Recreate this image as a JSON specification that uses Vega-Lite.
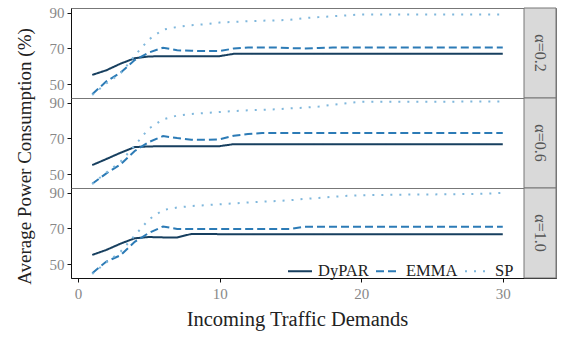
{
"$schema":"https://vega.github.io/schema/vega-lite/v6.json",
"background":"white",
"padding":{"left":14,"top":5,"right":5,"bottom":5},
"bounds":"flush",
"spacing":0,
"config":{"font":"Liberation Serif","view":{"stroke":"#777","strokeWidth":1},
"axis":{"labelFont":"Liberation Serif","titleFont":"Liberation Serif","labelColor":"#888","labelFontSize":15,"titleFontSize":19,"titleFontWeight":"normal","titleColor":"#222","domainColor":"#111","tickColor":"#111","grid":false,"tickSize":4,"labelPadding":3}},
"datasets":{
"strips":[{"alpha":"α=0.2"},{"alpha":"α=0.6"},{"alpha":"α=1.0"}],
"lines":[
{"alpha":"α=0.2","method":"DyPAR","demand":1,"power":55.2},{"alpha":"α=0.2","method":"DyPAR","demand":2,"power":57.8},{"alpha":"α=0.2","method":"DyPAR","demand":3,"power":61.5},{"alpha":"α=0.2","method":"DyPAR","demand":4,"power":64.5},{"alpha":"α=0.2","method":"DyPAR","demand":5,"power":65.5},{"alpha":"α=0.2","method":"DyPAR","demand":6,"power":65.7},{"alpha":"α=0.2","method":"DyPAR","demand":7,"power":65.7},{"alpha":"α=0.2","method":"DyPAR","demand":8,"power":65.7},{"alpha":"α=0.2","method":"DyPAR","demand":9,"power":65.7},{"alpha":"α=0.2","method":"DyPAR","demand":10,"power":65.7},
{"alpha":"α=0.2","method":"DyPAR","demand":11,"power":67},{"alpha":"α=0.2","method":"DyPAR","demand":12,"power":67},{"alpha":"α=0.2","method":"DyPAR","demand":13,"power":67},{"alpha":"α=0.2","method":"DyPAR","demand":14,"power":67},{"alpha":"α=0.2","method":"DyPAR","demand":15,"power":67},{"alpha":"α=0.2","method":"DyPAR","demand":16,"power":67},{"alpha":"α=0.2","method":"DyPAR","demand":17,"power":67},{"alpha":"α=0.2","method":"DyPAR","demand":18,"power":67},{"alpha":"α=0.2","method":"DyPAR","demand":19,"power":67},{"alpha":"α=0.2","method":"DyPAR","demand":20,"power":67},
{"alpha":"α=0.2","method":"DyPAR","demand":21,"power":67},{"alpha":"α=0.2","method":"DyPAR","demand":22,"power":67},{"alpha":"α=0.2","method":"DyPAR","demand":23,"power":67},{"alpha":"α=0.2","method":"DyPAR","demand":24,"power":67},{"alpha":"α=0.2","method":"DyPAR","demand":25,"power":67},{"alpha":"α=0.2","method":"DyPAR","demand":26,"power":67},{"alpha":"α=0.2","method":"DyPAR","demand":27,"power":67},{"alpha":"α=0.2","method":"DyPAR","demand":28,"power":67},{"alpha":"α=0.2","method":"DyPAR","demand":29,"power":67},{"alpha":"α=0.2","method":"DyPAR","demand":30,"power":67},
{"alpha":"α=0.2","method":"EMMA","demand":1,"power":44.4},{"alpha":"α=0.2","method":"EMMA","demand":2,"power":51.6},{"alpha":"α=0.2","method":"EMMA","demand":3,"power":56.5},{"alpha":"α=0.2","method":"EMMA","demand":4,"power":63.5},{"alpha":"α=0.2","method":"EMMA","demand":5,"power":67.7},{"alpha":"α=0.2","method":"EMMA","demand":6,"power":70.4},{"alpha":"α=0.2","method":"EMMA","demand":7,"power":69},{"alpha":"α=0.2","method":"EMMA","demand":8,"power":68.7},{"alpha":"α=0.2","method":"EMMA","demand":9,"power":68.5},{"alpha":"α=0.2","method":"EMMA","demand":10,"power":68.5},
{"alpha":"α=0.2","method":"EMMA","demand":11,"power":70},{"alpha":"α=0.2","method":"EMMA","demand":12,"power":70.5},{"alpha":"α=0.2","method":"EMMA","demand":13,"power":70.5},{"alpha":"α=0.2","method":"EMMA","demand":14,"power":70.5},{"alpha":"α=0.2","method":"EMMA","demand":15,"power":70.2},{"alpha":"α=0.2","method":"EMMA","demand":16,"power":70},{"alpha":"α=0.2","method":"EMMA","demand":17,"power":70.3},{"alpha":"α=0.2","method":"EMMA","demand":18,"power":70.5},{"alpha":"α=0.2","method":"EMMA","demand":19,"power":70.5},{"alpha":"α=0.2","method":"EMMA","demand":20,"power":70.5},
{"alpha":"α=0.2","method":"EMMA","demand":21,"power":70.5},{"alpha":"α=0.2","method":"EMMA","demand":22,"power":70.5},{"alpha":"α=0.2","method":"EMMA","demand":23,"power":70.5},{"alpha":"α=0.2","method":"EMMA","demand":24,"power":70.5},{"alpha":"α=0.2","method":"EMMA","demand":25,"power":70.5},{"alpha":"α=0.2","method":"EMMA","demand":26,"power":70.5},{"alpha":"α=0.2","method":"EMMA","demand":27,"power":70.5},{"alpha":"α=0.2","method":"EMMA","demand":28,"power":70.5},{"alpha":"α=0.2","method":"EMMA","demand":29,"power":70.5},{"alpha":"α=0.2","method":"EMMA","demand":30,"power":70.5},
{"alpha":"α=0.2","method":"SP","demand":1,"power":44},{"alpha":"α=0.2","method":"SP","demand":2,"power":50.5},{"alpha":"α=0.2","method":"SP","demand":3,"power":56},{"alpha":"α=0.2","method":"SP","demand":4,"power":66},{"alpha":"α=0.2","method":"SP","demand":5,"power":75},{"alpha":"α=0.2","method":"SP","demand":6,"power":80.5},{"alpha":"α=0.2","method":"SP","demand":7,"power":82},{"alpha":"α=0.2","method":"SP","demand":8,"power":83},{"alpha":"α=0.2","method":"SP","demand":9,"power":83.5},{"alpha":"α=0.2","method":"SP","demand":10,"power":84.5},
{"alpha":"α=0.2","method":"SP","demand":11,"power":84.8},{"alpha":"α=0.2","method":"SP","demand":12,"power":85.2},{"alpha":"α=0.2","method":"SP","demand":13,"power":85.5},{"alpha":"α=0.2","method":"SP","demand":14,"power":85.7},{"alpha":"α=0.2","method":"SP","demand":15,"power":86},{"alpha":"α=0.2","method":"SP","demand":16,"power":87},{"alpha":"α=0.2","method":"SP","demand":17,"power":87.5},{"alpha":"α=0.2","method":"SP","demand":18,"power":88},{"alpha":"α=0.2","method":"SP","demand":19,"power":88.5},{"alpha":"α=0.2","method":"SP","demand":20,"power":89},
{"alpha":"α=0.2","method":"SP","demand":21,"power":89},{"alpha":"α=0.2","method":"SP","demand":22,"power":89},{"alpha":"α=0.2","method":"SP","demand":23,"power":89},{"alpha":"α=0.2","method":"SP","demand":24,"power":89},{"alpha":"α=0.2","method":"SP","demand":25,"power":89},{"alpha":"α=0.2","method":"SP","demand":26,"power":89},{"alpha":"α=0.2","method":"SP","demand":27,"power":89},{"alpha":"α=0.2","method":"SP","demand":28,"power":89},{"alpha":"α=0.2","method":"SP","demand":29,"power":89},{"alpha":"α=0.2","method":"SP","demand":30,"power":89},
{"alpha":"α=0.6","method":"DyPAR","demand":1,"power":55.1},{"alpha":"α=0.6","method":"DyPAR","demand":2,"power":58.5},{"alpha":"α=0.6","method":"DyPAR","demand":3,"power":62},{"alpha":"α=0.6","method":"DyPAR","demand":4,"power":65.2},{"alpha":"α=0.6","method":"DyPAR","demand":5,"power":65.5},{"alpha":"α=0.6","method":"DyPAR","demand":6,"power":65.7},{"alpha":"α=0.6","method":"DyPAR","demand":7,"power":65.7},{"alpha":"α=0.6","method":"DyPAR","demand":8,"power":65.7},{"alpha":"α=0.6","method":"DyPAR","demand":9,"power":65.7},{"alpha":"α=0.6","method":"DyPAR","demand":10,"power":65.7},
{"alpha":"α=0.6","method":"DyPAR","demand":11,"power":66.8},{"alpha":"α=0.6","method":"DyPAR","demand":12,"power":66.8},{"alpha":"α=0.6","method":"DyPAR","demand":13,"power":66.8},{"alpha":"α=0.6","method":"DyPAR","demand":14,"power":66.8},{"alpha":"α=0.6","method":"DyPAR","demand":15,"power":66.8},{"alpha":"α=0.6","method":"DyPAR","demand":16,"power":66.8},{"alpha":"α=0.6","method":"DyPAR","demand":17,"power":66.8},{"alpha":"α=0.6","method":"DyPAR","demand":18,"power":66.8},{"alpha":"α=0.6","method":"DyPAR","demand":19,"power":66.8},{"alpha":"α=0.6","method":"DyPAR","demand":20,"power":66.8},
{"alpha":"α=0.6","method":"DyPAR","demand":21,"power":66.8},{"alpha":"α=0.6","method":"DyPAR","demand":22,"power":66.8},{"alpha":"α=0.6","method":"DyPAR","demand":23,"power":66.8},{"alpha":"α=0.6","method":"DyPAR","demand":24,"power":66.8},{"alpha":"α=0.6","method":"DyPAR","demand":25,"power":66.8},{"alpha":"α=0.6","method":"DyPAR","demand":26,"power":66.8},{"alpha":"α=0.6","method":"DyPAR","demand":27,"power":66.8},{"alpha":"α=0.6","method":"DyPAR","demand":28,"power":66.8},{"alpha":"α=0.6","method":"DyPAR","demand":29,"power":66.8},{"alpha":"α=0.6","method":"DyPAR","demand":30,"power":66.8},
{"alpha":"α=0.6","method":"EMMA","demand":1,"power":44.7},{"alpha":"α=0.6","method":"EMMA","demand":2,"power":50.5},{"alpha":"α=0.6","method":"EMMA","demand":3,"power":55.5},{"alpha":"α=0.6","method":"EMMA","demand":4,"power":63},{"alpha":"α=0.6","method":"EMMA","demand":5,"power":68},{"alpha":"α=0.6","method":"EMMA","demand":6,"power":71.3},{"alpha":"α=0.6","method":"EMMA","demand":7,"power":70.2},{"alpha":"α=0.6","method":"EMMA","demand":8,"power":69.3},{"alpha":"α=0.6","method":"EMMA","demand":9,"power":69.2},{"alpha":"α=0.6","method":"EMMA","demand":10,"power":69.5},
{"alpha":"α=0.6","method":"EMMA","demand":11,"power":71.5},{"alpha":"α=0.6","method":"EMMA","demand":12,"power":72.5},{"alpha":"α=0.6","method":"EMMA","demand":13,"power":73},{"alpha":"α=0.6","method":"EMMA","demand":14,"power":73},{"alpha":"α=0.6","method":"EMMA","demand":15,"power":73},{"alpha":"α=0.6","method":"EMMA","demand":16,"power":73},{"alpha":"α=0.6","method":"EMMA","demand":17,"power":73},{"alpha":"α=0.6","method":"EMMA","demand":18,"power":73},{"alpha":"α=0.6","method":"EMMA","demand":19,"power":73},{"alpha":"α=0.6","method":"EMMA","demand":20,"power":73},
{"alpha":"α=0.6","method":"EMMA","demand":21,"power":73},{"alpha":"α=0.6","method":"EMMA","demand":22,"power":73},{"alpha":"α=0.6","method":"EMMA","demand":23,"power":73},{"alpha":"α=0.6","method":"EMMA","demand":24,"power":73},{"alpha":"α=0.6","method":"EMMA","demand":25,"power":73},{"alpha":"α=0.6","method":"EMMA","demand":26,"power":73},{"alpha":"α=0.6","method":"EMMA","demand":27,"power":73},{"alpha":"α=0.6","method":"EMMA","demand":28,"power":73},{"alpha":"α=0.6","method":"EMMA","demand":29,"power":73},{"alpha":"α=0.6","method":"EMMA","demand":30,"power":73},
{"alpha":"α=0.6","method":"SP","demand":1,"power":44.5},{"alpha":"α=0.6","method":"SP","demand":2,"power":51},{"alpha":"α=0.6","method":"SP","demand":3,"power":57},{"alpha":"α=0.6","method":"SP","demand":4,"power":66},{"alpha":"α=0.6","method":"SP","demand":5,"power":75.5},{"alpha":"α=0.6","method":"SP","demand":6,"power":80.7},{"alpha":"α=0.6","method":"SP","demand":7,"power":82.8},{"alpha":"α=0.6","method":"SP","demand":8,"power":83.7},{"alpha":"α=0.6","method":"SP","demand":9,"power":84.2},{"alpha":"α=0.6","method":"SP","demand":10,"power":84.8},
{"alpha":"α=0.6","method":"SP","demand":11,"power":85.3},{"alpha":"α=0.6","method":"SP","demand":12,"power":85.7},{"alpha":"α=0.6","method":"SP","demand":13,"power":86},{"alpha":"α=0.6","method":"SP","demand":14,"power":86.3},{"alpha":"α=0.6","method":"SP","demand":15,"power":86.8},{"alpha":"α=0.6","method":"SP","demand":16,"power":87.2},{"alpha":"α=0.6","method":"SP","demand":17,"power":87.8},{"alpha":"α=0.6","method":"SP","demand":18,"power":88.8},{"alpha":"α=0.6","method":"SP","demand":19,"power":89.7},{"alpha":"α=0.6","method":"SP","demand":20,"power":90.5},
{"alpha":"α=0.6","method":"SP","demand":21,"power":90.5},{"alpha":"α=0.6","method":"SP","demand":22,"power":90.5},{"alpha":"α=0.6","method":"SP","demand":23,"power":90.5},{"alpha":"α=0.6","method":"SP","demand":24,"power":90.5},{"alpha":"α=0.6","method":"SP","demand":25,"power":90.5},{"alpha":"α=0.6","method":"SP","demand":26,"power":90.5},{"alpha":"α=0.6","method":"SP","demand":27,"power":90.6},{"alpha":"α=0.6","method":"SP","demand":28,"power":90.6},{"alpha":"α=0.6","method":"SP","demand":29,"power":90.6},{"alpha":"α=0.6","method":"SP","demand":30,"power":90.6},
{"alpha":"α=1.0","method":"DyPAR","demand":1,"power":55.2},{"alpha":"α=1.0","method":"DyPAR","demand":2,"power":58},{"alpha":"α=1.0","method":"DyPAR","demand":3,"power":61.5},{"alpha":"α=1.0","method":"DyPAR","demand":4,"power":64.5},{"alpha":"α=1.0","method":"DyPAR","demand":5,"power":65.2},{"alpha":"α=1.0","method":"DyPAR","demand":6,"power":65},{"alpha":"α=1.0","method":"DyPAR","demand":7,"power":65},{"alpha":"α=1.0","method":"DyPAR","demand":8,"power":66.9},{"alpha":"α=1.0","method":"DyPAR","demand":9,"power":66.9},{"alpha":"α=1.0","method":"DyPAR","demand":10,"power":66.8},
{"alpha":"α=1.0","method":"DyPAR","demand":11,"power":66.8},{"alpha":"α=1.0","method":"DyPAR","demand":12,"power":66.8},{"alpha":"α=1.0","method":"DyPAR","demand":13,"power":66.8},{"alpha":"α=1.0","method":"DyPAR","demand":14,"power":66.8},{"alpha":"α=1.0","method":"DyPAR","demand":15,"power":66.8},{"alpha":"α=1.0","method":"DyPAR","demand":16,"power":66.8},{"alpha":"α=1.0","method":"DyPAR","demand":17,"power":66.8},{"alpha":"α=1.0","method":"DyPAR","demand":18,"power":66.8},{"alpha":"α=1.0","method":"DyPAR","demand":19,"power":66.8},{"alpha":"α=1.0","method":"DyPAR","demand":20,"power":66.8},
{"alpha":"α=1.0","method":"DyPAR","demand":21,"power":66.8},{"alpha":"α=1.0","method":"DyPAR","demand":22,"power":66.8},{"alpha":"α=1.0","method":"DyPAR","demand":23,"power":66.8},{"alpha":"α=1.0","method":"DyPAR","demand":24,"power":66.8},{"alpha":"α=1.0","method":"DyPAR","demand":25,"power":66.8},{"alpha":"α=1.0","method":"DyPAR","demand":26,"power":66.8},{"alpha":"α=1.0","method":"DyPAR","demand":27,"power":66.8},{"alpha":"α=1.0","method":"DyPAR","demand":28,"power":66.8},{"alpha":"α=1.0","method":"DyPAR","demand":29,"power":66.8},{"alpha":"α=1.0","method":"DyPAR","demand":30,"power":66.8},
{"alpha":"α=1.0","method":"EMMA","demand":1,"power":45},{"alpha":"α=1.0","method":"EMMA","demand":2,"power":51.5},{"alpha":"α=1.0","method":"EMMA","demand":3,"power":55},{"alpha":"α=1.0","method":"EMMA","demand":4,"power":62.5},{"alpha":"α=1.0","method":"EMMA","demand":5,"power":67.5},{"alpha":"α=1.0","method":"EMMA","demand":6,"power":71.1},{"alpha":"α=1.0","method":"EMMA","demand":7,"power":69.7},{"alpha":"α=1.0","method":"EMMA","demand":8,"power":69.7},{"alpha":"α=1.0","method":"EMMA","demand":9,"power":69.7},{"alpha":"α=1.0","method":"EMMA","demand":10,"power":69.7},
{"alpha":"α=1.0","method":"EMMA","demand":11,"power":69.7},{"alpha":"α=1.0","method":"EMMA","demand":12,"power":69.7},{"alpha":"α=1.0","method":"EMMA","demand":13,"power":69.7},{"alpha":"α=1.0","method":"EMMA","demand":14,"power":69.7},{"alpha":"α=1.0","method":"EMMA","demand":15,"power":69.7},{"alpha":"α=1.0","method":"EMMA","demand":16,"power":71},{"alpha":"α=1.0","method":"EMMA","demand":17,"power":71},{"alpha":"α=1.0","method":"EMMA","demand":18,"power":71},{"alpha":"α=1.0","method":"EMMA","demand":19,"power":71},{"alpha":"α=1.0","method":"EMMA","demand":20,"power":71},
{"alpha":"α=1.0","method":"EMMA","demand":21,"power":71},{"alpha":"α=1.0","method":"EMMA","demand":22,"power":71},{"alpha":"α=1.0","method":"EMMA","demand":23,"power":71},{"alpha":"α=1.0","method":"EMMA","demand":24,"power":71},{"alpha":"α=1.0","method":"EMMA","demand":25,"power":71},{"alpha":"α=1.0","method":"EMMA","demand":26,"power":71},{"alpha":"α=1.0","method":"EMMA","demand":27,"power":71},{"alpha":"α=1.0","method":"EMMA","demand":28,"power":71},{"alpha":"α=1.0","method":"EMMA","demand":29,"power":71},{"alpha":"α=1.0","method":"EMMA","demand":30,"power":71},
{"alpha":"α=1.0","method":"SP","demand":1,"power":44.5},{"alpha":"α=1.0","method":"SP","demand":2,"power":51},{"alpha":"α=1.0","method":"SP","demand":3,"power":57},{"alpha":"α=1.0","method":"SP","demand":4,"power":66},{"alpha":"α=1.0","method":"SP","demand":5,"power":75},{"alpha":"α=1.0","method":"SP","demand":6,"power":80.3},{"alpha":"α=1.0","method":"SP","demand":7,"power":81.7},{"alpha":"α=1.0","method":"SP","demand":8,"power":82.5},{"alpha":"α=1.0","method":"SP","demand":9,"power":83},{"alpha":"α=1.0","method":"SP","demand":10,"power":83.5},
{"alpha":"α=1.0","method":"SP","demand":11,"power":84},{"alpha":"α=1.0","method":"SP","demand":12,"power":84.5},{"alpha":"α=1.0","method":"SP","demand":13,"power":85},{"alpha":"α=1.0","method":"SP","demand":14,"power":85.3},{"alpha":"α=1.0","method":"SP","demand":15,"power":85.8},{"alpha":"α=1.0","method":"SP","demand":16,"power":86.5},{"alpha":"α=1.0","method":"SP","demand":17,"power":87},{"alpha":"α=1.0","method":"SP","demand":18,"power":87.7},{"alpha":"α=1.0","method":"SP","demand":19,"power":88.2},{"alpha":"α=1.0","method":"SP","demand":20,"power":88.5},
{"alpha":"α=1.0","method":"SP","demand":21,"power":88.7},{"alpha":"α=1.0","method":"SP","demand":22,"power":88.8},{"alpha":"α=1.0","method":"SP","demand":23,"power":88.9},{"alpha":"α=1.0","method":"SP","demand":24,"power":89},{"alpha":"α=1.0","method":"SP","demand":25,"power":89},{"alpha":"α=1.0","method":"SP","demand":26,"power":89.1},{"alpha":"α=1.0","method":"SP","demand":27,"power":89.2},{"alpha":"α=1.0","method":"SP","demand":28,"power":89.3},{"alpha":"α=1.0","method":"SP","demand":29,"power":89.5},{"alpha":"α=1.0","method":"SP","demand":30,"power":89.9}
]},
"resolve":{"legend":{"color":"independent","strokeDash":"independent"}},
"vconcat":[
{"width":485,"height":90,"layer":[
{"data":{"name":"strips"},"transform":[{"filter":"datum.alpha === 'α=0.2'"}],"mark":{"type":"rect","fill":"#d9d9d9","stroke":"#777","strokeWidth":1},
"encoding":{"x":{"datum":31.5,"type":"quantitative","scale":{"domain":[-0.5,33.76],"nice":false,"zero":false},"axis":null},"x2":{"datum":33.76}}},
{"data":{"name":"strips"},"transform":[{"filter":"datum.alpha === 'α=0.2'"}],"mark":{"type":"text","angle":90,"font":"Liberation Serif","fontSize":16,"color":"#555"},
"encoding":{"x":{"datum":32.63,"type":"quantitative","axis":null},"text":{"field":"alpha","type":"nominal"}}},
{"data":{"name":"lines"},"transform":[{"filter":"datum.alpha === 'α=0.2'"}],"mark":{"type":"line","strokeWidth":2},
"encoding":{
"x":{"field":"demand","type":"quantitative","scale":{"domain":[-0.5,33.76],"nice":false,"zero":false},"axis":null},
"y":{"field":"power","type":"quantitative","scale":{"domain":[42.3,92.6],"nice":false,"zero":false},"axis":{"title":null,"values":[50,70,90]}},
"color":{"field":"method","type":"nominal","scale":{"domain":["DyPAR","EMMA","SP"],"range":["#173f5f","#2c7bb6","#7fb7dc"]},"legend":null},
"strokeDash":{"field":"method","type":"nominal","scale":{"domain":["DyPAR","EMMA","SP"],"range":[[1,0],[8,4],[2,7]]},"legend":null}}}
]},
{"width":485,"height":90,"layer":[
{"data":{"name":"strips"},"transform":[{"filter":"datum.alpha === 'α=0.6'"}],"mark":{"type":"rect","fill":"#d9d9d9","stroke":"#777","strokeWidth":1},
"encoding":{"x":{"datum":31.5,"type":"quantitative","scale":{"domain":[-0.5,33.76],"nice":false,"zero":false},"axis":null},"x2":{"datum":33.76}}},
{"data":{"name":"strips"},"transform":[{"filter":"datum.alpha === 'α=0.6'"}],"mark":{"type":"text","angle":90,"font":"Liberation Serif","fontSize":16,"color":"#555"},
"encoding":{"x":{"datum":32.63,"type":"quantitative","axis":null},"text":{"field":"alpha","type":"nominal"}}},
{"data":{"name":"lines"},"transform":[{"filter":"datum.alpha === 'α=0.6'"}],"mark":{"type":"line","strokeWidth":2},
"encoding":{
"x":{"field":"demand","type":"quantitative","scale":{"domain":[-0.5,33.76],"nice":false,"zero":false},"axis":null},
"y":{"field":"power","type":"quantitative","scale":{"domain":[42.3,92.6],"nice":false,"zero":false},"axis":{"title":"Average Power Consumption (%)","values":[50,70,90],"titleY":58,"titlePadding":15}},
"color":{"field":"method","type":"nominal","scale":{"domain":["DyPAR","EMMA","SP"],"range":["#173f5f","#2c7bb6","#7fb7dc"]},"legend":null},
"strokeDash":{"field":"method","type":"nominal","scale":{"domain":["DyPAR","EMMA","SP"],"range":[[1,0],[8,4],[2,7]]},"legend":null}}}
]},
{"width":485,"height":90,"layer":[
{"data":{"name":"strips"},"transform":[{"filter":"datum.alpha === 'α=1.0'"}],"mark":{"type":"rect","fill":"#d9d9d9","stroke":"#777","strokeWidth":1},
"encoding":{"x":{"datum":31.5,"type":"quantitative","scale":{"domain":[-0.5,33.76],"nice":false,"zero":false},"axis":{"title":"Incoming Traffic Demands","values":[0,10,20,30],"titlePadding":8,"labelPadding":4,"titleFontSize":20.5,"titleX":226}},"x2":{"datum":33.76}}},
{"data":{"name":"strips"},"transform":[{"filter":"datum.alpha === 'α=1.0'"}],"mark":{"type":"text","angle":90,"font":"Liberation Serif","fontSize":16,"color":"#555"},
"encoding":{"x":{"datum":32.63,"type":"quantitative","axis":{"title":"Incoming Traffic Demands","values":[0,10,20,30],"titlePadding":8,"labelPadding":4,"titleFontSize":20.5,"titleX":226}},"text":{"field":"alpha","type":"nominal"}}},
{"data":{"name":"lines"},"transform":[{"filter":"datum.alpha === 'α=1.0'"}],"mark":{"type":"line","strokeWidth":2},
"encoding":{
"x":{"field":"demand","type":"quantitative","scale":{"domain":[-0.5,33.76],"nice":false,"zero":false},"axis":{"title":"Incoming Traffic Demands","values":[0,10,20,30],"titlePadding":8,"labelPadding":4,"titleFontSize":20.5,"titleX":226}},
"y":{"field":"power","type":"quantitative","scale":{"domain":[42.3,92.6],"nice":false,"zero":false},"axis":{"title":null,"values":[50,70,90]}},
"color":{"field":"method","type":"nominal","scale":{"domain":["DyPAR","EMMA","SP"],"range":["#173f5f","#2c7bb6","#7fb7dc"]},
"legend":{"orient":"none","legendX":216,"legendY":70,"direction":"horizontal","title":null,"symbolType":"stroke","symbolSize":576,"symbolStrokeWidth":2,"labelFont":"Liberation Serif","labelFontSize":16.5,"labelColor":"#222","padding":0,"columnPadding":3,"labelOffset":5}},
"strokeDash":{"field":"method","type":"nominal","scale":{"domain":["DyPAR","EMMA","SP"],"range":[[1,0],[8,4],[2,7]]},
"legend":{"orient":"none","legendX":216,"legendY":70,"direction":"horizontal","title":null,"symbolType":"stroke","symbolSize":576,"symbolStrokeWidth":2,"labelFont":"Liberation Serif","labelFontSize":16.5,"labelColor":"#222","padding":0,"columnPadding":3,"labelOffset":5}}}}
]}
]
}
